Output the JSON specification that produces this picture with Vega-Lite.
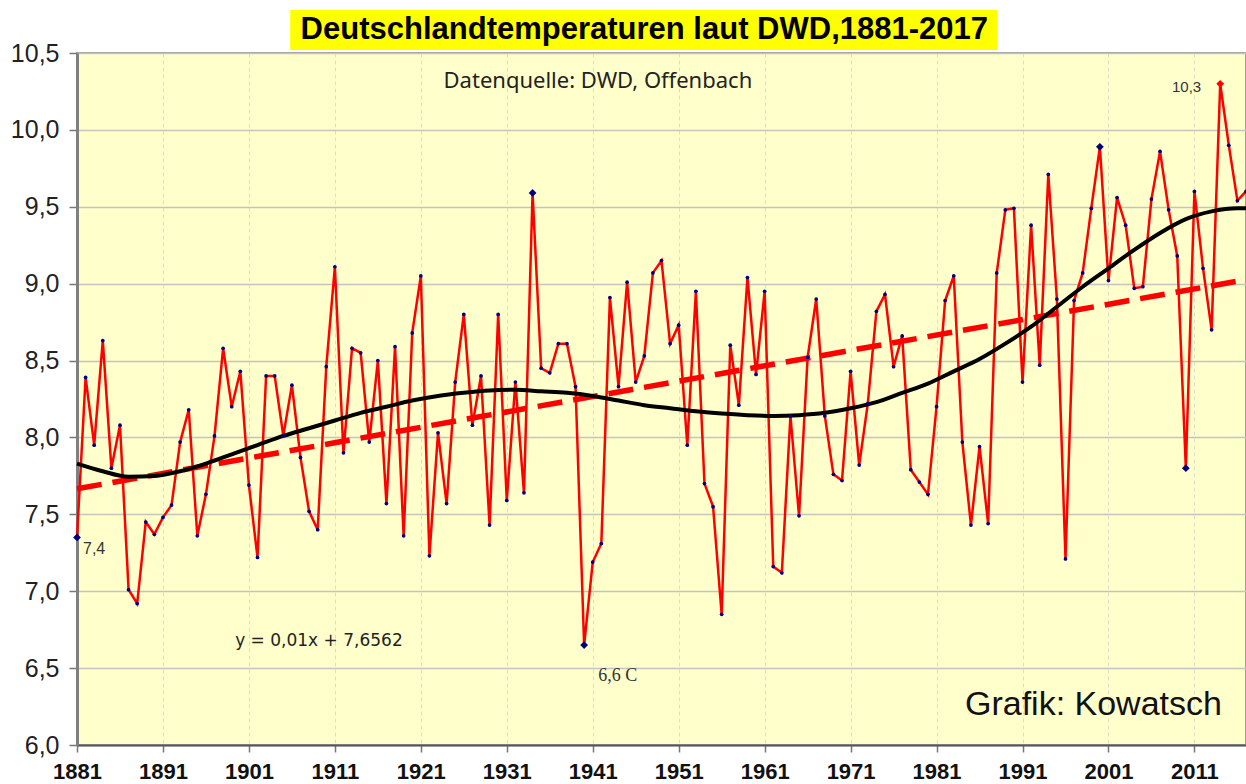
{
  "$schema": "https://vega.github.io/schema/vega-lite/v6.json",
  "width": 1169,
  "height": 692,
  "autosize": {"type": "none"},
  "padding": {"left": 77, "top": 53, "right": 0, "bottom": 39},
  "background": "white",
  "config": {
    "view": {"fill": "#FFFFCC", "stroke": "#a0a0a0", "strokeWidth": 2},
    "font": "Liberation Sans",
    "axisX": {
      "labelFont": "Liberation Sans", "labelFontSize": 22, "labelFontWeight": "bold",
      "labelColor": "#111111", "labelPadding": 9, "labelFlush": false, "labelOverlap": false,
      "tickSize": 7, "tickColor": "#777777", "tickWidth": 1.5,
      "domainColor": "#555555", "domainWidth": 2,
      "grid": true, "gridColor": "#dedec4", "gridDash": [4, 3], "gridWidth": 1
    },
    "axisY": {
      "labelFont": "Liberation Sans", "labelFontSize": 25, "labelColor": "#222222",
      "labelPadding": 10, "labelFlush": false, "labelOverlap": false,
      "tickSize": 8, "tickColor": "#777777", "tickWidth": 1.5,
      "domainColor": "#808080", "domainWidth": 3,
      "grid": true, "gridColor": "#c4c4bc", "gridWidth": 1.5
    }
  },
  "datasets": {
    "temps": [
      {"year": 1881, "temp": 7.35, "kind": "extreme"},
      {"year": 1882, "temp": 8.39}, {"year": 1883, "temp": 7.95}, {"year": 1884, "temp": 8.63},
      {"year": 1885, "temp": 7.80}, {"year": 1886, "temp": 8.08}, {"year": 1887, "temp": 7.01},
      {"year": 1888, "temp": 6.92}, {"year": 1889, "temp": 7.45}, {"year": 1890, "temp": 7.37},
      {"year": 1891, "temp": 7.48}, {"year": 1892, "temp": 7.56}, {"year": 1893, "temp": 7.97},
      {"year": 1894, "temp": 8.18}, {"year": 1895, "temp": 7.36}, {"year": 1896, "temp": 7.63},
      {"year": 1897, "temp": 8.01}, {"year": 1898, "temp": 8.58}, {"year": 1899, "temp": 8.20},
      {"year": 1900, "temp": 8.43}, {"year": 1901, "temp": 7.69}, {"year": 1902, "temp": 7.22},
      {"year": 1903, "temp": 8.40}, {"year": 1904, "temp": 8.40}, {"year": 1905, "temp": 8.01},
      {"year": 1906, "temp": 8.34}, {"year": 1907, "temp": 7.87}, {"year": 1908, "temp": 7.52},
      {"year": 1909, "temp": 7.40}, {"year": 1910, "temp": 8.46}, {"year": 1911, "temp": 9.11},
      {"year": 1912, "temp": 7.90}, {"year": 1913, "temp": 8.58}, {"year": 1914, "temp": 8.55},
      {"year": 1915, "temp": 7.97}, {"year": 1916, "temp": 8.50}, {"year": 1917, "temp": 7.57},
      {"year": 1918, "temp": 8.59}, {"year": 1919, "temp": 7.36}, {"year": 1920, "temp": 8.68},
      {"year": 1921, "temp": 9.05}, {"year": 1922, "temp": 7.23}, {"year": 1923, "temp": 8.03},
      {"year": 1924, "temp": 7.57}, {"year": 1925, "temp": 8.36}, {"year": 1926, "temp": 8.80},
      {"year": 1927, "temp": 8.08}, {"year": 1928, "temp": 8.40}, {"year": 1929, "temp": 7.43},
      {"year": 1930, "temp": 8.80}, {"year": 1931, "temp": 7.59}, {"year": 1932, "temp": 8.36},
      {"year": 1933, "temp": 7.64}, {"year": 1934, "temp": 9.59, "kind": "extreme"},
      {"year": 1935, "temp": 8.45}, {"year": 1936, "temp": 8.42}, {"year": 1937, "temp": 8.61},
      {"year": 1938, "temp": 8.61}, {"year": 1939, "temp": 8.33},
      {"year": 1940, "temp": 6.65, "kind": "extreme"},
      {"year": 1941, "temp": 7.19}, {"year": 1942, "temp": 7.31}, {"year": 1943, "temp": 8.91},
      {"year": 1944, "temp": 8.33}, {"year": 1945, "temp": 9.01}, {"year": 1946, "temp": 8.36},
      {"year": 1947, "temp": 8.53}, {"year": 1948, "temp": 9.07}, {"year": 1949, "temp": 9.15},
      {"year": 1950, "temp": 8.61}, {"year": 1951, "temp": 8.73}, {"year": 1952, "temp": 7.95},
      {"year": 1953, "temp": 8.95}, {"year": 1954, "temp": 7.70}, {"year": 1955, "temp": 7.55},
      {"year": 1956, "temp": 6.85}, {"year": 1957, "temp": 8.60}, {"year": 1958, "temp": 8.21},
      {"year": 1959, "temp": 9.04}, {"year": 1960, "temp": 8.41}, {"year": 1961, "temp": 8.95},
      {"year": 1962, "temp": 7.16}, {"year": 1963, "temp": 7.12}, {"year": 1964, "temp": 8.14},
      {"year": 1965, "temp": 7.49}, {"year": 1966, "temp": 8.52}, {"year": 1967, "temp": 8.90},
      {"year": 1968, "temp": 8.14}, {"year": 1969, "temp": 7.76}, {"year": 1970, "temp": 7.72},
      {"year": 1971, "temp": 8.43}, {"year": 1972, "temp": 7.82}, {"year": 1973, "temp": 8.22},
      {"year": 1974, "temp": 8.82}, {"year": 1975, "temp": 8.93}, {"year": 1976, "temp": 8.46},
      {"year": 1977, "temp": 8.66}, {"year": 1978, "temp": 7.79}, {"year": 1979, "temp": 7.71},
      {"year": 1980, "temp": 7.63}, {"year": 1981, "temp": 8.20}, {"year": 1982, "temp": 8.89},
      {"year": 1983, "temp": 9.05}, {"year": 1984, "temp": 7.97}, {"year": 1985, "temp": 7.43},
      {"year": 1986, "temp": 7.94}, {"year": 1987, "temp": 7.44}, {"year": 1988, "temp": 9.07},
      {"year": 1989, "temp": 9.48}, {"year": 1990, "temp": 9.49}, {"year": 1991, "temp": 8.36},
      {"year": 1992, "temp": 9.38}, {"year": 1993, "temp": 8.47}, {"year": 1994, "temp": 9.71},
      {"year": 1995, "temp": 8.90}, {"year": 1996, "temp": 7.21}, {"year": 1997, "temp": 8.89},
      {"year": 1998, "temp": 9.07}, {"year": 1999, "temp": 9.49},
      {"year": 2000, "temp": 9.89, "kind": "extreme"},
      {"year": 2001, "temp": 9.02}, {"year": 2002, "temp": 9.56}, {"year": 2003, "temp": 9.38},
      {"year": 2004, "temp": 8.97}, {"year": 2005, "temp": 8.98}, {"year": 2006, "temp": 9.55},
      {"year": 2007, "temp": 9.86}, {"year": 2008, "temp": 9.48}, {"year": 2009, "temp": 9.18},
      {"year": 2010, "temp": 7.80, "kind": "extreme"},
      {"year": 2011, "temp": 9.60}, {"year": 2012, "temp": 9.10}, {"year": 2013, "temp": 8.70},
      {"year": 2014, "temp": 10.30, "kind": "record"},
      {"year": 2015, "temp": 9.90}, {"year": 2016, "temp": 9.54}, {"year": 2017, "temp": 9.60}
    ],
    "trend": [
      {"year": 1881, "temp": 7.666},
      {"year": 2017, "temp": 9.026}
    ],
    "poly": [
      {"year": 1881, "temp": 7.83}, {"year": 1884, "temp": 7.78}, {"year": 1887, "temp": 7.745},
      {"year": 1890, "temp": 7.75}, {"year": 1893, "temp": 7.78}, {"year": 1896, "temp": 7.83},
      {"year": 1899, "temp": 7.89}, {"year": 1902, "temp": 7.95}, {"year": 1905, "temp": 8.01},
      {"year": 1908, "temp": 8.06}, {"year": 1911, "temp": 8.11}, {"year": 1914, "temp": 8.16},
      {"year": 1917, "temp": 8.20}, {"year": 1920, "temp": 8.24}, {"year": 1923, "temp": 8.27},
      {"year": 1926, "temp": 8.29}, {"year": 1929, "temp": 8.305}, {"year": 1932, "temp": 8.31},
      {"year": 1935, "temp": 8.30}, {"year": 1938, "temp": 8.29}, {"year": 1941, "temp": 8.27},
      {"year": 1944, "temp": 8.24}, {"year": 1947, "temp": 8.21}, {"year": 1950, "temp": 8.19},
      {"year": 1953, "temp": 8.17}, {"year": 1956, "temp": 8.155}, {"year": 1959, "temp": 8.145},
      {"year": 1962, "temp": 8.14}, {"year": 1965, "temp": 8.145}, {"year": 1968, "temp": 8.16},
      {"year": 1971, "temp": 8.19}, {"year": 1974, "temp": 8.23}, {"year": 1977, "temp": 8.29},
      {"year": 1980, "temp": 8.35}, {"year": 1983, "temp": 8.43}, {"year": 1986, "temp": 8.51},
      {"year": 1989, "temp": 8.61}, {"year": 1992, "temp": 8.72}, {"year": 1995, "temp": 8.85},
      {"year": 1998, "temp": 8.98}, {"year": 2001, "temp": 9.10}, {"year": 2004, "temp": 9.22},
      {"year": 2007, "temp": 9.33}, {"year": 2010, "temp": 9.42}, {"year": 2013, "temp": 9.47},
      {"year": 2016, "temp": 9.49}, {"year": 2017, "temp": 9.49}
    ]
  },
  "layer": [
    {
      "data": {"name": "temps"},
      "mark": {"type": "line", "color": "#FF0000", "strokeWidth": 2.5},
      "encoding": {
        "x": {
          "field": "year", "type": "quantitative",
          "scale": {"domain": [1881, 2017], "nice": false, "zero": false},
          "axis": {
            "title": null,
            "values": [1881, 1891, 1901, 1911, 1921, 1931, 1941, 1951, 1961, 1971, 1981, 1991, 2001, 2011],
            "format": "d"
          }
        },
        "y": {
          "field": "temp", "type": "quantitative",
          "scale": {"domain": [6, 10.5], "nice": false, "zero": false},
          "axis": {
            "title": null,
            "values": [6, 6.5, 7, 7.5, 8, 8.5, 9, 9.5, 10, 10.5],
            "labelExpr": "replace(format(datum.value, '.1f'), '.', ',')"
          }
        }
      }
    },
    {
      "data": {"name": "trend"},
      "mark": {"type": "line", "color": "#FF0000", "strokeWidth": 5.5, "strokeDash": [25, 11]},
      "encoding": {
        "x": {"field": "year", "type": "quantitative", "axis": {"title": null}},
        "y": {"field": "temp", "type": "quantitative", "axis": {"title": null}}
      }
    },
    {
      "data": {"name": "poly"},
      "mark": {"type": "line", "color": "#000000", "strokeWidth": 4, "interpolate": "monotone"},
      "encoding": {
        "x": {"field": "year", "type": "quantitative", "axis": {"title": null}},
        "y": {"field": "temp", "type": "quantitative", "axis": {"title": null}}
      }
    },
    {
      "data": {"name": "temps"},
      "mark": {"type": "point", "filled": true, "color": "#000080", "size": 14, "opacity": 1},
      "encoding": {
        "x": {"field": "year", "type": "quantitative", "axis": {"title": null}},
        "y": {"field": "temp", "type": "quantitative", "axis": {"title": null}}
      }
    },
    {
      "data": {"name": "temps"},
      "transform": [{"filter": "isValid(datum.kind)"}],
      "mark": {"type": "point", "filled": true, "shape": "diamond", "size": 60, "opacity": 1},
      "encoding": {
        "x": {"field": "year", "type": "quantitative", "axis": {"title": null}},
        "y": {"field": "temp", "type": "quantitative", "axis": {"title": null}},
        "color": {
          "field": "kind", "type": "nominal", "legend": null,
          "scale": {"domain": ["extreme", "record"], "range": ["#000080", "#FF0000"]}
        }
      }
    },
    {
      "data": {"values": [{}]},
      "mark": {"type": "rect", "color": "#FFFF00"},
      "encoding": {
        "x": {"datum": 1905.8, "type": "quantitative", "axis": {"title": null}},
        "x2": {"datum": 1988.1},
        "y": {"datum": 10.78, "type": "quantitative", "axis": {"title": null}},
        "y2": {"datum": 10.52}
      }
    },
    {
      "data": {"values": [{}]},
      "mark": {"type": "text", "text": "Deutschlandtemperaturen laut DWD,1881-2017", "font": "Liberation Sans", "fontSize": 31, "fontWeight": "bold", "color": "#000000", "align": "center", "baseline": "middle"},
      "encoding": {
        "x": {"datum": 1947.0, "type": "quantitative", "axis": {"title": null}},
        "y": {"datum": 10.65, "type": "quantitative", "axis": {"title": null}}
      }
    },
    {
      "data": {"values": [{}]},
      "mark": {"type": "text", "text": "Datenquelle: DWD, Offenbach", "font": "Noto Sans", "fontSize": 22, "color": "#222222", "align": "center", "baseline": "middle"},
      "encoding": {
        "x": {"datum": 1941.6, "type": "quantitative", "axis": {"title": null}},
        "y": {"datum": 10.32, "type": "quantitative", "axis": {"title": null}}
      }
    },
    {
      "data": {"values": [{}]},
      "mark": {"type": "text", "text": "y = 0,01x + 7,6562", "font": "DejaVu Sans", "fontSize": 17, "color": "#222222", "align": "left", "baseline": "middle"},
      "encoding": {
        "x": {"datum": 1899.4, "type": "quantitative", "axis": {"title": null}},
        "y": {"datum": 6.676, "type": "quantitative", "axis": {"title": null}}
      }
    },
    {
      "data": {"values": [{}]},
      "mark": {"type": "text", "text": "Grafik: Kowatsch", "font": "Liberation Sans", "fontSize": 34, "color": "#111111", "align": "right", "baseline": "middle"},
      "encoding": {
        "x": {"datum": 2014.2, "type": "quantitative", "axis": {"title": null}},
        "y": {"datum": 6.26, "type": "quantitative", "axis": {"title": null}}
      }
    },
    {
      "data": {"values": [{}]},
      "mark": {"type": "text", "text": "7,4", "font": "Liberation Sans", "fontSize": 16, "color": "#333333", "align": "left", "baseline": "middle", "dx": 6, "dy": 12},
      "encoding": {
        "x": {"datum": 1881, "type": "quantitative", "axis": {"title": null}},
        "y": {"datum": 7.35, "type": "quantitative", "axis": {"title": null}}
      }
    },
    {
      "data": {"values": [{}]},
      "mark": {"type": "text", "text": "6,6 C", "font": "Liberation Serif", "fontSize": 18, "color": "#333333", "align": "left", "baseline": "middle", "dx": 14, "dy": 31},
      "encoding": {
        "x": {"datum": 1940, "type": "quantitative", "axis": {"title": null}},
        "y": {"datum": 6.65, "type": "quantitative", "axis": {"title": null}}
      }
    },
    {
      "data": {"values": [{}]},
      "mark": {"type": "text", "text": "10,3", "font": "Liberation Sans", "fontSize": 15, "color": "#333333", "align": "right", "baseline": "middle", "dx": -19, "dy": 3},
      "encoding": {
        "x": {"datum": 2014, "type": "quantitative", "axis": {"title": null}},
        "y": {"datum": 10.3, "type": "quantitative", "axis": {"title": null}}
      }
    }
  ]
}
